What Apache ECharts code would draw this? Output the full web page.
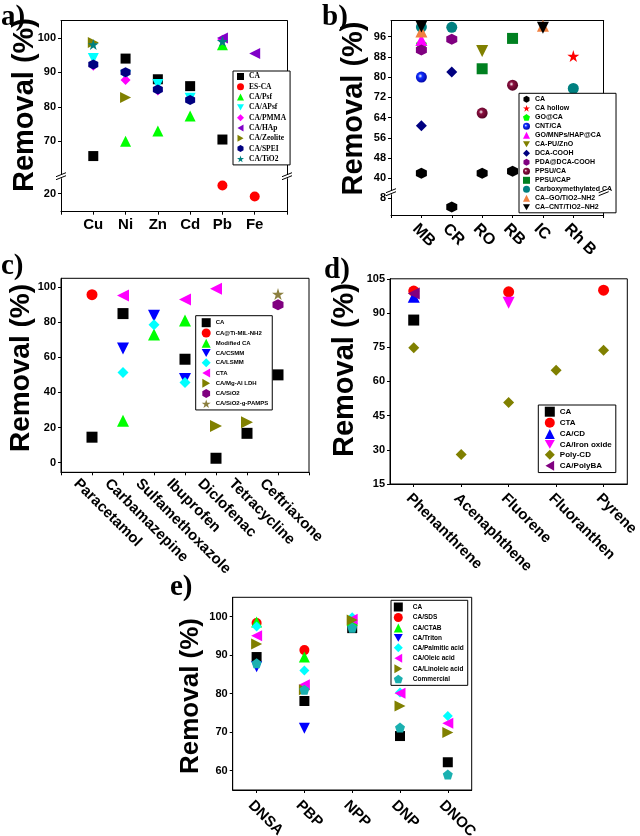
<!DOCTYPE html>
<html><head><meta charset="utf-8">
<script src="https://cdn.jsdelivr.net/npm/echarts@6/dist/echarts.min.js"></script>
<style>html,body{margin:0;padding:0;background:#fff}#c{width:640px;height:836px}</style>
</head><body><div id="c"></div>
<script>
// ---------- DATA ----------
// Panel a (heavy metals)
const aCats = ['Cu', 'Ni', 'Zn', 'Cd', 'Pb', 'Fe'];
const a_CA       = [65.7, 94, 88, 86, 70.5, null];
const a_ESCA     = [null, null, null, null, 22.3, 19.2];
const a_Psf      = [null, 70, 73, 77.3, 98, null];
const a_APsf     = [94, 89, 86.5, 82.5, null, null];
const a_PMMA     = [91.9, 87.8, 84.7, null, 99.5, null];
const a_HAp      = [null, null, null, null, 100, 95.5];
const a_Zeolite  = [98.7, 82.7, null, null, null, null];
const a_SPEI     = [92.3, 90, 85, 82, null, null];
const a_TiO2     = [98.1, null, null, null, 99, null];
const aUpTicks = [70, 80, 90, 100];
const aLoTicks = [20];

// Panel b (dyes)
const bCats = ['MB', 'CR', 'RO', 'RB', 'IC', 'Rh B'];
const b_CA        = [42, 4.5, 42, 42.8, null, null];
const b_CAhollow  = [null, null, null, null, null, 88.3];
const b_GOCA      = [93, null, null, null, null, null];
const b_CNTCA     = [80, null, null, null, null, null];
const b_GOMNP     = [94.7, null, null, null, null, null];
const b_PUZnO     = [null, null, 90.3, null, null, null];
const b_DCACOOH   = [60.8, 82, null, null, null, null];
const b_PDADCA    = [90.7, 95, null, null, null, null];
const b_PPSUCA    = [null, null, 65.8, 76.8, null, null];
const b_PPSUCAP   = [null, null, 83.3, 95.3, null, null];
const b_CMCA      = [99.8, 99.7, null, null, null, 75.5];
const b_GOTiO2    = [98, null, null, null, 100.3, null];
const b_CNTTiO2   = [100, null, null, null, 99.5, null];
const bUpTicks = [40, 48, 56, 64, 72, 80, 88, 96];
const bLoTicks = [8];

// Panel c (pharmaceuticals)
const cCats = ['Paracetamol', 'Carbamazepine', 'Sulfamethoxazole', 'Ibuprofen', 'Diclofenac', 'Tetracycline', 'Ceftriaxone'];
const c_CA     = [14.5, 84.9, null, 58.9, 2.5, 16.7, 50];
const c_TiMIL  = [95.7, null, null, null, null, null, null];
const c_ModCA  = [null, 23.8, 73, 80.9, null, null, null];
const c_CSMM   = [null, 65, 83.6, 47.7, null, null, null];
const c_LSMM   = [null, 51.3, 78.5, 45.6, null, null, null];
const c_CTA    = [null, 95.2, null, 92.9, 99, null, null];
const c_MgAl   = [null, null, null, null, 20.9, 23, null];
const c_SiO2   = [null, null, null, null, null, null, 89.9];
const c_PAMPS  = [null, null, null, null, null, null, 96];
const cTicks = [0, 20, 40, 60, 80, 100];

// Panel d (PAHs)
const dCats = ['Phenanthrene', 'Acenaphthene', 'Fluorene', 'Fluoranthen', 'Pyrene'];
const d_CA     = [86.9, null, null, null, null];
const d_CTA    = [99.6, null, 99.3, null, 100];
const d_CACD   = [97.1, null, null, null, null];
const d_Iron   = [null, null, 94.5, null, null];
const d_PolyCD = [74.8, 27.9, 50.8, 64.9, 73.7];
const d_PolyBA = [98.6, null, null, null, null];

// Panel e (phenols)
const eCats = ['DNSA', 'PBP', 'NPP', 'DNP', 'DNOC'];
const e_CA       = [89.5, 78.1, 97, 69, 62.2];
const e_SDS      = [98.3, 91.3, 99, null, null];
const e_CTAB     = [98.6, 89.5, 99, null, null];
const e_Triton   = [87, 71, null, null, null];
const e_Palm     = [97.4, 86, 99.8, 80.3, 74.2];
const e_Oleic    = [95, 82.3, 99.3, 80.1, 72.3];
const e_Linoleic = [92.9, 81, 99.1, 76.8, 69.9];
const e_Comm     = [87.9, 81, 97.1, 71.2, 59];
const eTicks = [60, 70, 80, 90, 100];

// ---------- STYLE ----------
const SANS = '"Liberation Sans", Arial, sans-serif';
const SERIF = '"Liberation Serif", "Times New Roman", serif';
const SYM = {
  square: 'rect',
  circle: 'circle',
  triUp: 'triangle',
  triDown: 'path://M0,0L10,0L5,8.66Z',
  triLeft: 'path://M0,5L8.66,0L8.66,10Z',
  triRight: 'path://M0,0L8.66,5L0,10Z',
  diamond: 'diamond',
  hexagon: 'path://M5,0L9.33,2.5L9.33,7.5L5,10L0.67,7.5L0.67,2.5Z',
  star: 'path://M5,0L6.18,3.62L10,3.62L6.91,5.86L8.09,9.51L5,7.27L1.91,9.51L3.09,5.86L0,3.62L3.82,3.62Z',
  pentagon: 'path://M5,0L9.76,3.45L7.94,9.05L2.06,9.05L0.24,3.45Z'
};
function sphere(base, dark) {
  return {type: 'radial', x: 0.4, y: 0.4, r: 0.65,
    colorStops: [{offset: 0, color: '#ffffff'}, {offset: 0.3, color: base}, {offset: 1, color: dark}]};
}

const aSeries = [
  {name: 'CA', values: a_CA, shape: 'square', color: '#000000'},
  {name: 'ES-CA', values: a_ESCA, shape: 'circle', color: '#ff0000'},
  {name: 'CA/Psf', values: a_Psf, shape: 'triUp', color: '#00ff00'},
  {name: 'CA/APsf', values: a_APsf, shape: 'triDown', color: '#00ffff'},
  {name: 'CA/PMMA', values: a_PMMA, shape: 'diamond', color: '#ff00ff'},
  {name: 'CA/HAp', values: a_HAp, shape: 'triLeft', color: '#8000c8'},
  {name: 'CA/Zeolite', values: a_Zeolite, shape: 'triRight', color: '#808000'},
  {name: 'CA/SPEI', values: a_SPEI, shape: 'hexagon', color: '#000080'},
  {name: 'CA/TiO2', values: a_TiO2, shape: 'star', color: '#008080'}
];
const bSeries = [
  {name: 'CA', values: b_CA, shape: 'hexagon', color: '#000000'},
  {name: 'CA hollow', values: b_CAhollow, shape: 'star', color: '#ff0000'},
  {name: 'GO@CA', values: b_GOCA, shape: 'pentagon', color: '#00ff00'},
  {name: 'CNT/CA', values: b_CNTCA, shape: 'circle', color: sphere('#1030ff', '#0000a0')},
  {name: 'GO/MNPs/HAP@CA', values: b_GOMNP, shape: 'triUp', color: '#ff00ff'},
  {name: 'CA-PU/ZnO', values: b_PUZnO, shape: 'triDown', color: '#808000'},
  {name: 'DCA-COOH', values: b_DCACOOH, shape: 'diamond', color: '#000080'},
  {name: 'PDA@DCA-COOH', values: b_PDADCA, shape: 'hexagon', color: '#800080'},
  {name: 'PPSU/CA', values: b_PPSUCA, shape: 'circle', color: sphere('#8a1040', '#500020')},
  {name: 'PPSU/CAP', values: b_PPSUCAP, shape: 'square', color: '#008020'},
  {name: 'Carboxymethylated CA', values: b_CMCA, shape: 'circle', color: '#008080'},
  {name: 'CA\u2013GO/TiO2\u2013NH2', values: b_GOTiO2, shape: 'triUp', color: '#f08040'},
  {name: 'CA\u2013CNT/TiO2\u2013NH2', values: b_CNTTiO2, shape: 'triDown', color: '#000000'}
];
const cSeries = [
  {name: 'CA', values: c_CA, shape: 'square', color: '#000000'},
  {name: 'CA@Ti-MIL-NH2', values: c_TiMIL, shape: 'circle', color: '#ff0000'},
  {name: 'Modified CA', values: c_ModCA, shape: 'triUp', color: '#00ff00'},
  {name: 'CA/CSMM', values: c_CSMM, shape: 'triDown', color: '#0000ff'},
  {name: 'CA/LSMM', values: c_LSMM, shape: 'diamond', color: '#00ffff'},
  {name: 'CTA', values: c_CTA, shape: 'triLeft', color: '#ff00ff'},
  {name: 'CA/Mg-Al LDH', values: c_MgAl, shape: 'triRight', color: '#808000'},
  {name: 'CA/SiO2', values: c_SiO2, shape: 'hexagon', color: '#800080'},
  {name: 'CA/SiO2-g-PAMPS', values: c_PAMPS, shape: 'star', color: '#8c8040'}
];
const dSeries = [
  {name: 'CA', values: d_CA, shape: 'square', color: '#000000'},
  {name: 'CTA', values: d_CTA, shape: 'circle', color: '#ff0000'},
  {name: 'CA/CD', values: d_CACD, shape: 'triUp', color: '#0000ff'},
  {name: 'CA/Iron oxide', values: d_Iron, shape: 'triDown', color: '#ff00ff'},
  {name: 'Poly-CD', values: d_PolyCD, shape: 'diamond', color: '#808000'},
  {name: 'CA/PolyBA', values: d_PolyBA, shape: 'triLeft', color: '#800080'}
];
const eSeries = [
  {name: 'CA', values: e_CA, shape: 'square', color: '#000000'},
  {name: 'CA/SDS', values: e_SDS, shape: 'circle', color: '#ff0000'},
  {name: 'CA/CTAB', values: e_CTAB, shape: 'triUp', color: '#00ff00'},
  {name: 'CA/Triton', values: e_Triton, shape: 'triDown', color: '#0000ff'},
  {name: 'CA/Palmitic acid', values: e_Palm, shape: 'diamond', color: '#00ffff'},
  {name: 'CA/Oleic acid', values: e_Oleic, shape: 'triLeft', color: '#ff00ff'},
  {name: 'CA/Linoleic acid', values: e_Linoleic, shape: 'triRight', color: '#808000'},
  {name: 'Commercial', values: e_Comm, shape: 'pentagon', color: '#1ab0b0'}
];

// ---------- BUILD ----------
const grids = [], xAxes = [], yAxes = [], series = [], legends = [], graphics = [];
const line = {show: true, onZero: false, lineStyle: {color: '#000', width: 1}};
const noSplit = {show: false};
function yLab(vals) { return {customValues: vals, fontFamily: SANS, fontWeight: 'bold', fontSize: 11, color: '#000', margin: 5}; }
function yTick(vals) { return {show: true, length: 3, customValues: vals, lineStyle: {color: '#000'}}; }
function xLab(p) {
  const o = {interval: 0, rotate: p.rotate, fontFamily: SANS, fontWeight: 'bold', fontSize: p.xFont, color: '#000',
    margin: p.xMargin, hideOverlap: false};
  if (p.xLH) { o.verticalAlign = 'top'; o.lineHeight = p.xLH; }
  return o;
}
function addGrid(g) { grids.push(Object.assign({containLabel: false, outerBoundsMode: 'none'}, g)); return grids.length - 1; }
function pts(cats, vals, pred) {
  const out = [];
  cats.forEach((c, i) => { if (vals[i] != null && pred(vals[i])) out.push([c, vals[i]]); });
  return out;
}
function mkSeries(key, s, data, xi, yi, size) {
  return {type: 'scatter', name: s.name + '#' + key, xAxisIndex: xi, yAxisIndex: yi, data: data,
    symbol: SYM[s.shape], symbolSize: (s.shape.indexOf('tri') === 0 || s.shape === 'star') ? size + 1 : size,
    itemStyle: {color: s.color, opacity: 1}, emphasis: {disabled: true}, animation: false};
}
function addLegend(p) {
  legends.push(Object.assign({orient: 'vertical', borderColor: '#000', borderWidth: 1, backgroundColor: '#fff',
    selectedMode: false, formatter: n => n.split('#')[0],
    data: p.series.map(s => s.name + '#' + p.key)}, p.legend));
}

function breakPanel(p) {
  const gU = addGrid({left: p.left, top: p.top, width: p.width, height: p.brkY - p.top});
  const gL = addGrid({left: p.left, top: p.brkY, width: p.width, height: p.bottom - p.brkY});
  const axisCats = [' '].concat(p.cats, ['  ']);
  const xU = xAxes.push({type: 'category', gridIndex: gU, data: axisCats, boundaryGap: false, position: 'top',
    axisLine: line, axisTick: {show: false}, axisLabel: {show: false}, splitLine: noSplit}) - 1;
  const xL = xAxes.push({type: 'category', gridIndex: gL, data: axisCats, boundaryGap: false, position: 'bottom',
    axisLine: line, axisTick: {show: true, length: 3, lineStyle: {color: '#000'}}, axisLabel: xLab(p), splitLine: noSplit}) - 1;
  const yU = yAxes.push({type: 'value', gridIndex: gU, min: p.upper[0], max: p.upper[1], axisLine: line,
    axisTick: yTick(p.upTicks), axisLabel: yLab(p.upTicks), splitLine: noSplit}) - 1;
  yAxes.push({type: 'value', gridIndex: gU, position: 'right', min: p.upper[0], max: p.upper[1], axisLine: line,
    axisTick: {show: false}, axisLabel: {show: false}, splitLine: noSplit});
  const yL = yAxes.push({type: 'value', gridIndex: gL, min: p.lower[0], max: p.lower[1], axisLine: line,
    axisTick: yTick(p.loTicks), axisLabel: yLab(p.loTicks), splitLine: noSplit}) - 1;
  yAxes.push({type: 'value', gridIndex: gL, position: 'right', min: p.lower[0], max: p.lower[1], axisLine: line,
    axisTick: {show: false}, axisLabel: {show: false}, splitLine: noSplit});
  p.series.forEach(s => {
    series.push(mkSeries(p.key, s, pts(p.cats, s.values, v => v >= p.threshold), xU, yU, p.size));
    series.push(mkSeries(p.key, s, pts(p.cats, s.values, v => v < p.threshold), xL, yL, p.size));
  });
  addLegend(p);
  [p.left, p.left + p.width].forEach(x => {
    const y = p.brkY;
    graphics.push({type: 'polygon', z: 100, shape: {points: [[x - 5, y + 1.2], [x + 5, y - 2.8], [x + 5, y + 0.8], [x - 5, y + 4.8]]}, style: {fill: '#fff'}});
    graphics.push({type: 'line', z: 101, shape: {x1: x - 5, y1: y + 1, x2: x + 5, y2: y - 3}, style: {stroke: '#000', lineWidth: 1}});
    graphics.push({type: 'line', z: 101, shape: {x1: x - 5, y1: y + 4, x2: x + 5, y2: y}, style: {stroke: '#000', lineWidth: 1}});
  });
}

function simplePanel(p) {
  const g = addGrid({left: p.left, top: p.top, width: p.width, height: p.bottom - p.top,
    show: true, borderColor: '#000', borderWidth: 1, backgroundColor: 'transparent'});
  const axisCats = p.padCats ? [' '].concat(p.cats, ['  ']) : p.cats;
  const xi = xAxes.push({type: 'category', gridIndex: g, data: axisCats, boundaryGap: !p.padCats,
    axisLine: line, axisTick: {show: true, length: 3, alignWithLabel: true, lineStyle: {color: '#000'}},
    axisLabel: xLab(p), splitLine: noSplit}) - 1;
  const yCfg = {type: 'value', gridIndex: g, min: p.yMin, max: p.yMax, axisLine: line, splitLine: noSplit,
    axisTick: {show: true, length: 3, lineStyle: {color: '#000'}},
    axisLabel: {fontFamily: SANS, fontWeight: 'bold', fontSize: 11, color: '#000', margin: 5}};
  if (p.ticks) { yCfg.axisTick.customValues = p.ticks; yCfg.axisLabel.customValues = p.ticks; }
  else { yCfg.interval = p.interval; }
  const yi = yAxes.push(yCfg) - 1;
  p.series.forEach(s => series.push(mkSeries(p.key, s, pts(p.cats, s.values, () => true), xi, yi, p.size)));
  addLegend(p);
}

function legendText(size, family) {
  return {fontFamily: family, fontWeight: 'bold', fontSize: size, color: '#000', lineHeight: size};
}

breakPanel({key: 'a', cats: aCats, series: aSeries, left: 61, top: 20.7, width: 226, brkY: 175.7, bottom: 211.7,
  upper: [60, 105], lower: [15, 25], threshold: 40, upTicks: aUpTicks, loTicks: aLoTicks,
  rotate: 0, xFont: 15, xMargin: 6, size: 10,
  legend: {left: 233, top: 71, padding: [1.5, 4, 2, 4], itemWidth: 7, itemHeight: 7, itemGap: 2.3,
    textStyle: legendText(7.5, SERIF)}});

breakPanel({key: 'b', cats: bCats, series: bSeries, left: 391, top: 20.7, width: 212.7, brkY: 191.7, bottom: 215,
  upper: [34.7, 102.3], lower: [1.3, 10.5], threshold: 20, upTicks: bUpTicks, loTicks: bLoTicks,
  rotate: -45, xFont: 16, xMargin: 5, xLH: 18, size: 11,
  legend: {left: 519, top: 93.3, padding: [2.5, 4, 2, 4], itemWidth: 7, itemHeight: 7, itemGap: 2,
    textStyle: legendText(7, SANS)}});

simplePanel({key: 'c', cats: cCats, series: cSeries, padCats: true, left: 61, top: 278.3, width: 248, bottom: 472.3,
  yMin: -5.5, yMax: 105, ticks: cTicks, rotate: -45, xFont: 15, xMargin: -7, xLH: 45, size: 11,
  legend: {left: 195.7, top: 315.7, padding: [2.5, 4, 2, 6], itemWidth: 9, itemHeight: 9, itemGap: 1.3,
    textStyle: legendText(6, SANS)}});

simplePanel({key: 'd', cats: dCats, series: dSeries, padCats: false, left: 390, top: 278.8, width: 237.3, bottom: 484,
  yMin: 15, yMax: 105, interval: 15, rotate: -45, xFont: 15, xMargin: 7, xLH: 14, size: 11,
  legend: {left: 538.3, top: 405, padding: [1.7, 4, 1.7, 6.5], itemWidth: 10, itemHeight: 10, itemGap: 1.1,
    textStyle: legendText(8, SANS)}});

simplePanel({key: 'e', cats: eCats, series: eSeries, padCats: false, left: 232.7, top: 597.3, width: 239, bottom: 790,
  yMin: 55, yMax: 105, ticks: eTicks, rotate: -45, xFont: 15, xMargin: 7, xLH: 17, size: 10,
  legend: {left: 391, top: 600.3, padding: [2.2, 4, 2, 2.8], itemWidth: 9, itemHeight: 9, itemGap: 1.5,
    textStyle: Object.assign(legendText(6.5, SANS), {padding: [0, 0, 0, 5]})}});

// y-axis titles and panel letters
[[25, 105, 29], [354, 108.5, 29], [21, 368, 28], [345, 370, 29], [191, 696, 26]].forEach(t => {
  graphics.push({type: 'text', x: t[0], y: t[1], rotation: Math.PI / 2, z: 100,
    style: {text: 'Removal (%)', font: 'bold ' + t[2] + 'px ' + SANS, fill: '#000', align: 'center', verticalAlign: 'middle'}});
});
[['a)', 1, 18], ['b)', 322, 18], ['c)', 1, 267], ['d)', 324, 271], ['e)', 170, 588]].forEach(t => {
  graphics.push({type: 'text', x: t[1], y: t[2], z: 100,
    style: {text: t[0], font: 'bold 29px ' + SERIF, fill: '#000', align: 'left', verticalAlign: 'middle'}});
});

const chart = echarts.init(document.getElementById('c'), null, {renderer: 'canvas'});
chart.setOption({
  animation: false,
  backgroundColor: '#fff',
  grid: grids, xAxis: xAxes, yAxis: yAxes, series: series, legend: legends,
  graphic: {elements: graphics}
});
</script></body></html>
